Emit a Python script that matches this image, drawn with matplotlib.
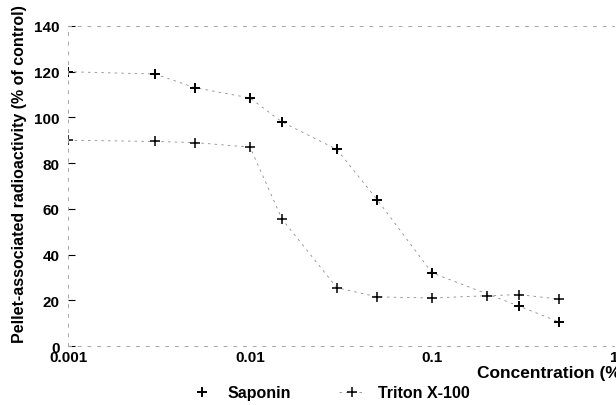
import matplotlib
matplotlib.use("Agg")
import matplotlib.pyplot as plt

plt.rcParams['font.family'] = ['Liberation Sans', 'DejaVu Sans']

# values
sap_conc = [0.001, 0.003, 0.005, 0.01, 0.015, 0.03, 0.05, 0.1, 0.3, 0.5]
sap_val = [120, 119, 113, 108.5, 98, 86, 64, 32, 17.5, 10.5]

tri_conc = [0.001, 0.003, 0.005, 0.01, 0.015, 0.03, 0.05, 0.1, 0.2, 0.3, 0.5]
tri_val = [90, 89.5, 89, 87, 55.5, 25.5, 21.5, 21, 22, 22.5, 20.5]

yticks = [0, 20, 40, 60, 80, 100, 120, 140]
xticks = [0.001, 0.01, 0.1, 1]
xticklabels = ['0.001', '0.01', '0.1', '1']

fig = plt.figure(figsize=(6.16, 4.06), dpi=100)
ax = fig.add_axes([0.1104, 0.1453, 0.8864, 0.7882])

ax.plot(sap_conc, sap_val, ls=(0, (3, 5)), lw=0.6, color='0.55')
ax.plot(sap_conc, sap_val, ls='none', marker='+', ms=7, mew=1.4,
        color='black', label='Saponin')
ax.plot(tri_conc, tri_val, ls=(0, (3, 5)), lw=0.6, color='0.55',
        marker='+', ms=7, mew=1.1, mec='black', label='Triton X-100')

ax.set_xscale('log')
ax.set_xlim(0.001, 1)
ax.set_ylim(0, 140)
ax.set_xticks(xticks)
ax.set_xticklabels(xticklabels)
ax.minorticks_off()
ax.set_yticks(yticks)

for s in ['top', 'bottom', 'left']:
    ax.spines[s].set_linestyle((0, (3, 7)))
    ax.spines[s].set_color('0.65')
    ax.spines[s].set_linewidth(0.7)
ax.spines['right'].set_visible(False)

ax.tick_params(axis='y', direction='in', length=5, width=0.8, pad=6,
               labelsize=11)
ax.tick_params(axis='x', length=0, pad=3, labelsize=11)
for t in ax.get_xticklabels() + ax.get_yticklabels():
    t.set_fontweight('bold')

ax.set_ylabel('Pellet-associated radioactivity (% of control)',
              fontsize=11.5, fontweight='bold', labelpad=3)
ax.yaxis.set_label_coords(-0.076, 0.54)
# x label sits at the right and runs past the edge like the scan
fig.text(477 / 616, 1 - 374 / 406, 'Concentration (%)', ha='left',
         va='center', fontsize=12.5, fontweight='bold')

fig.legend(loc='center', bbox_to_anchor=(0.535, 0.03), ncol=2,
           frameon=False, handlelength=1.6, columnspacing=3.0,
           borderpad=0, prop={'weight': 'bold', 'size': 11.5})

fig.savefig('out.png', dpi=100)
